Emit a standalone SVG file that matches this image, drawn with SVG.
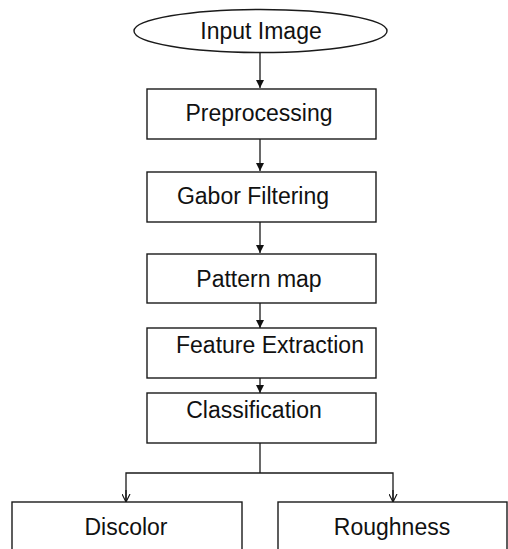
<svg xmlns="http://www.w3.org/2000/svg" width="508" height="549" viewBox="0 0 508 549">
<style>
.box{fill:#fff;stroke:#1a1a1a;stroke-width:1.4}
.lbl{font-family:"Liberation Sans",Arial,sans-serif;font-size:23px;fill:#111;text-anchor:middle}
.con{fill:none;stroke:#1a1a1a;stroke-width:1.3}
</style>
<defs>
<marker id="fa" viewBox="0 0 10 10" refX="10" refY="5" markerWidth="8" markerHeight="9" markerUnits="userSpaceOnUse" orient="auto"><path d="M0,0 L10,5 L0,10 Z" fill="#111"/></marker>
<marker id="oa" viewBox="0 0 10 10" refX="10" refY="5" markerWidth="8" markerHeight="9" markerUnits="userSpaceOnUse" orient="auto"><path d="M0,0 L10,5 L0,10" fill="none" stroke="#111" stroke-width="1.4"/></marker>
</defs>
<rect width="508" height="549" fill="#fff"/>
<g id="connectors">
<line class="con" x1="260" y1="52" x2="260" y2="88" marker-end="url(#fa)"/>
<line class="con" x1="260" y1="139" x2="260" y2="171" marker-end="url(#fa)"/>
<line class="con" x1="260" y1="222" x2="260" y2="253" marker-end="url(#fa)"/>
<line class="con" x1="260" y1="303" x2="260" y2="328" marker-end="url(#fa)"/>
<line class="con" x1="260" y1="378" x2="260" y2="393" marker-end="url(#fa)"/>
<polyline class="con" points="260,443 260,473"/>
<polyline class="con" points="126,501 126,473 393,473 393,501" marker-start="none"/>
<line class="con" x1="126" y1="490" x2="126" y2="502" marker-end="url(#oa)"/>
<line class="con" x1="393" y1="490" x2="393" y2="502" marker-end="url(#oa)"/>
</g>
<g id="input-image">
<ellipse class="box" cx="260.5" cy="31" rx="126.5" ry="21.5"/>
<text class="lbl" x="261" y="39">Input Image</text>
</g>
<g id="preprocessing">
<rect class="box" x="147" y="89" width="229" height="50"/>
<text class="lbl" x="259" y="121">Preprocessing</text>
</g>
<g id="gabor-filtering">
<rect class="box" x="147" y="172" width="229" height="50"/>
<text class="lbl" x="253" y="204">Gabor Filtering</text>
</g>
<g id="pattern-map">
<rect class="box" x="147" y="254" width="229" height="49"/>
<text class="lbl" x="259" y="287">Pattern map</text>
</g>
<g id="feature-extraction">
<rect class="box" x="147" y="328" width="229" height="50"/>
<text class="lbl" x="270" y="353">Feature Extraction</text>
</g>
<g id="classification">
<rect class="box" x="147" y="393" width="229" height="50"/>
<text class="lbl" x="254" y="418">Classification</text>
</g>
<g id="discolor">
<rect class="box" x="12" y="502" width="230" height="60"/>
<text class="lbl" x="126" y="535">Discolor</text>
</g>
<g id="roughness">
<rect class="box" x="278" y="502" width="229" height="60"/>
<text class="lbl" x="392" y="535">Roughness</text>
</g>
</svg>
